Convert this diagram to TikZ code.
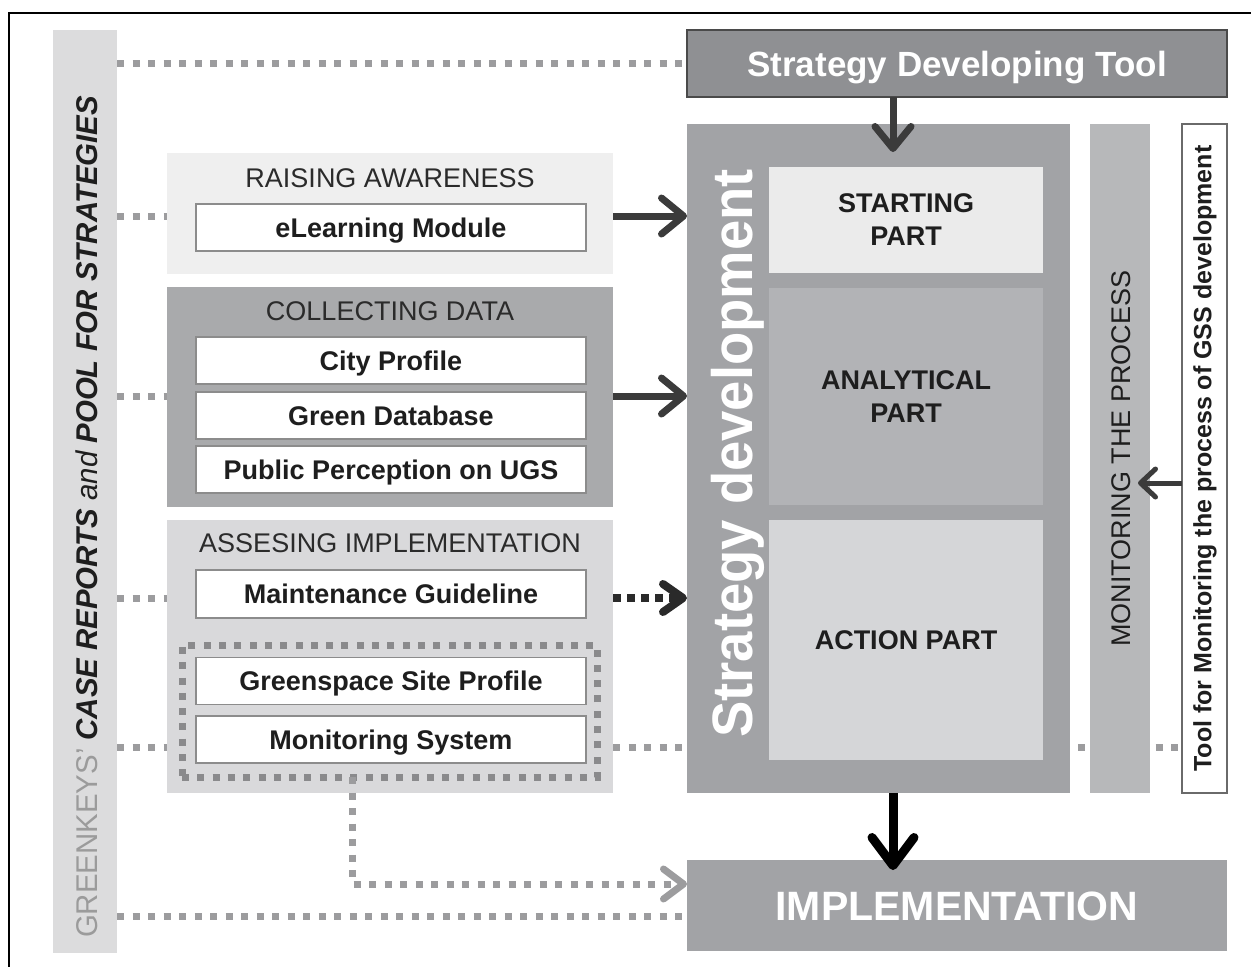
\documentclass[tikz,border=0pt]{standalone}
\usepackage{fontspec}
\setmainfont{Liberation Sans}
\usepackage{graphicx}
\usetikzlibrary{arrows.meta}
\pgfdeclarelayer{bg}
\pgfsetlayers{bg,main}
\definecolor{barL}{HTML}{DCDCDD}
\definecolor{gtxt}{HTML}{9B9B9B}
\definecolor{txt}{HTML}{1E1E1E}
\definecolor{titletxt}{HTML}{2B2B2B}
\definecolor{g1c}{HTML}{EFEFEF}
\definecolor{g2c}{HTML}{A9AAAC}
\definecolor{g3c}{HTML}{D9D9DB}
\definecolor{itemline}{HTML}{8C8C8C}
\definecolor{sdtc}{HTML}{8F9093}
\definecolor{sdtline}{HTML}{4A4A4A}
\definecolor{sdc}{HTML}{A2A3A6}
\definecolor{stc}{HTML}{EBEBEB}
\definecolor{anc}{HTML}{B2B3B6}
\definecolor{acc}{HTML}{D5D6D8}
\definecolor{monc}{HTML}{B7B8BA}
\definecolor{toolline}{HTML}{6A6A6A}
\definecolor{dotc}{HTML}{9C9C9E}
\definecolor{dotd}{HTML}{8A8A8C}
\definecolor{arrc}{HTML}{3B3B3B}
\definecolor{darkdot}{HTML}{2A2A2A}
\begin{document}
\begin{tikzpicture}[x=1pt,y=-1pt,
  blk/.style={rectangle, inner sep=0pt, outer sep=0pt},
  item/.style={blk, fill=white, draw=itemline, line width=1.5pt, minimum width=390pt, minimum height=47pt,
    font=\fontsize{27}{32}\selectfont\bfseries, text=txt, text height=19.5pt, text depth=0pt},
  grptitle/.style={anchor=base, inner sep=0pt, font=\fontsize{27}{32}\selectfont, text=titletxt},
  part/.style={blk, minimum width=274pt, align=center, font=\fontsize{27}{33}\selectfont\bfseries, text=txt},
  gdots/.style={draw=dotc, line width=7pt, dash pattern=on 7pt off 8.5pt},
  sarrow/.style={draw=arrc, line width=7pt, -{Straight Barb[length=22pt, width=36pt, round]}},
  barrow/.style={draw=black, line width=9pt, -{Straight Barb[length=28pt, width=42pt, round]}},
  tarrow/.style={draw=arrc, line width=5pt, -{Straight Barb[length=15pt, width=28pt, round]}},
  darrow/.style={draw=darkdot, line width=8pt, dash pattern=on 8pt off 6pt, -{Straight Barb[length=20pt, width=28pt, round]}},
  garrow/.style={draw=dotc, line width=7pt, dash pattern=on 7pt off 8.5pt, -{Straight Barb[length=20pt, width=30pt, round]}}
]
\useasboundingbox (0,0) rectangle (1251,967);
\draw[line width=1.5pt, black] (9,967) -- (9,13) -- (1251,13);

% left bar
\node[blk, fill=barL, minimum width=64pt, minimum height=923pt] (leftbar) at (85,491.5) {};
\node[rotate=90, anchor=base, inner sep=0pt, font=\fontsize{30}{36}\selectfont] (lefttext) at (97,517)
  {\scalebox{0.98}[1]{\color{gtxt}GREENKEYS’ \color{txt}\bfseries\itshape CASE REPORTS \mdseries and \bfseries POOL FOR STRATEGIES}};

% left groups
\node[blk, fill=g1c, minimum width=446pt, minimum height=121pt] (g1) at (390,213.5) {};
\node[grptitle] (g1t) at (390,187) {RAISING AWARENESS};
\node[item] (elm) at (391,227.5) {eLearning Module};

\node[blk, fill=g2c, minimum width=446pt, minimum height=220pt] (g2) at (390,397) {};
\node[grptitle] (g2t) at (390,320) {COLLECTING DATA};
\node[item] (city) at (391,360.5) {City Profile};
\node[item] (gdb) at (391,415.5) {Green Database};
\node[item] (ppu) at (391,469.5) {Public Perception on UGS};

\node[blk, fill=g3c, minimum width=446pt, minimum height=273pt] (g3) at (390,656.5) {};
\node[grptitle] (g3t) at (390,552) {ASSESING IMPLEMENTATION};
\node[item, minimum height=48pt] (mg) at (391,594) {Maintenance Guideline};
\node[blk, draw=dotd, line width=7pt, dash pattern=on 7pt off 8.3pt, minimum width=415pt, minimum height=132pt] (dbox) at (389.5,711) {};
\node[item] (gsp) at (391,681) {Greenspace Site Profile};
\node[item] (msys) at (391,739.5) {Monitoring System};

% right side
\node[blk, fill=sdtc, draw=sdtline, line width=1.5pt, minimum width=540pt, minimum height=67pt,
  font=\fontsize{35}{42}\selectfont\bfseries, text=white, text height=25pt, text depth=0pt] (sdt) at (957,63.5) {Strategy Developing Tool};

\node[blk, fill=sdc, minimum width=383pt, minimum height=669pt] (sd) at (878.5,458.5) {};
\node[rotate=90, anchor=base, inner sep=0pt, font=\fontsize{57}{60}\selectfont\bfseries, text=white] (sdlab) at (752,453.5)
  {\scalebox{0.955}[1]{Strategy development}};
\node[part, fill=stc, minimum height=106pt] (start) at (906,220) {STARTING\\PART};
\node[part, fill=anc, minimum height=217pt] (anal) at (906,396.5) {ANALYTICAL\\PART};
\node[part, fill=acc, minimum height=240pt] (act) at (906,640) {ACTION PART};

\node[blk, fill=monc, minimum width=60pt, minimum height=669pt] (mon) at (1120,458.5) {};
\node[rotate=90, inner sep=0pt, font=\fontsize{27}{32}\selectfont, text=txt] (monlab) at (1121,458.5) {MONITORING THE PROCESS};

\node[blk, fill=white, draw=toolline, line width=1.2pt, minimum width=45pt, minimum height=669pt] (tool) at (1204.5,458.5) {};
\node[rotate=90, inner sep=0pt, font=\fontsize{25}{30}\selectfont\bfseries, text=txt] (toollab) at (1205,458.5) {Tool for Monitoring the process of GSS development};

\node[blk, fill=sdc, minimum width=540pt, minimum height=91pt,
  font=\fontsize{41}{48}\selectfont\bfseries, text=white, text height=29.5pt, text depth=0pt] (impl) at (957,905.5) {IMPLEMENTATION};

% level coordinates
\coordinate (yA) at (0,216);
\coordinate (yB) at (0,396);
\coordinate (yC) at (0,598);
\coordinate (yD) at (0,747);
\coordinate (yE) at (0,916);
\coordinate (yF) at (0,884);
\coordinate (xF) at (352,0);
\coordinate (topTip) at (893,152);
\coordinate (botTip) at (893,870);
\coordinate (monTip) at (1138,483);

\begin{pgfonlayer}{bg}
\draw[gdots] (leftbar.east |- sdt.west) -- (sdt.west);
\draw[gdots] (leftbar.east |- yA) -- (g1.west |- yA);
\draw[gdots] (leftbar.east |- yB) -- (g2.west |- yB);
\draw[gdots] (leftbar.east |- yC) -- (g3.west |- yC);
\draw[gdots] (leftbar.east |- yD) -- (tool.west |- yD);
\draw[gdots] (leftbar.east |- yE) -- (impl.west |- yE);
\end{pgfonlayer}

\draw[sarrow] (g1.east |- yA) -- (sd.west |- yA);
\draw[sarrow] (g2.east |- yB) -- (sd.west |- yB);
\draw[darrow] (g3.east |- yC) -- (sd.west |- yC);
\draw[sarrow] (sdt.south -| topTip) -- (topTip);
\draw[barrow] (sd.south -| botTip) -- (botTip);
\draw[tarrow] (tool.west |- monTip) -- (monTip);
\draw[garrow] (dbox.south -| xF) |- (impl.west |- yF);
\end{tikzpicture}
\end{document}
